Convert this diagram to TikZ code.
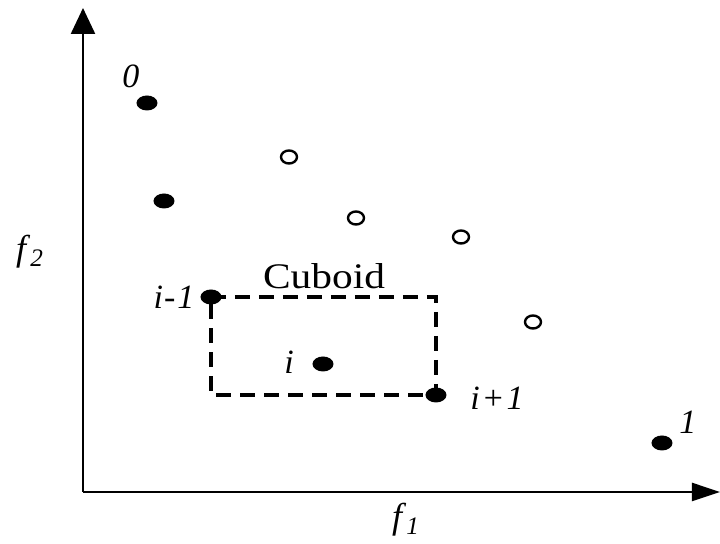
\documentclass[tikz,border=0pt]{standalone}
\usepackage{fontspec}
\setmainfont{Liberation Serif}
\usetikzlibrary{arrows.meta}

\tikzset{
  dot/.style={fill=black},
  hollow/.style={draw=black,line width=1.2pt,fill=white},
  lbl/.style={font=\fontsize{17}{19}\selectfont\itshape,inner sep=0pt},
}

\begin{document}
\begin{tikzpicture}[x=0.5pt,y=-0.5pt]
\useasboundingbox (0,0) rectangle (720,544);

% axes
\coordinate (o) at (83,492);
\coordinate (ytop) at (83,8);
\coordinate (xend) at (720,492);
\draw[line width=1.2pt,-{Triangle[length=13pt,width=12pt]}] (o) -- (ytop);
\draw[line width=1.2pt,-{Triangle[length=14pt,width=9pt]}] (o) -- (xend);
\node[font=\fontsize{18}{20}\selectfont] (f2) at (30,252) {\textit{f}\textsubscript{\textit{2}}};
\node[font=\fontsize{18}{20}\selectfont] (f1) at (406,520) {\textit{f}\textsubscript{\textit{1}}};

% solution points
\coordinate (p0) at (147,103);
\coordinate (pa) at (164,201);
\coordinate (pim1) at (211,297);
\coordinate (pi) at (323,364);
\coordinate (pip1) at (436,395);
\coordinate (p1) at (662,443);
\coordinate (qa) at (289,157);
\coordinate (qb) at (356,218);
\coordinate (qc) at (461,237);
\coordinate (qd) at (533,322);

% cuboid
\draw[line width=1.6pt,dash pattern=on 7.5pt off 4.5pt] (pim1) -| (pip1) -| cycle;
\node[font=\fontsize{18}{20}\selectfont,xscale=1.15,inner sep=0pt] (cub) at (324,276) {Cuboid};

\foreach \p in {p0,pa,pim1,pi,pip1,p1}
  \fill[dot] (\p) ellipse (10.5 and 7.5);
\foreach \q in {qa,qb,qc,qd}
  \draw[hollow] (\q) ellipse (8 and 6.5);

\node[lbl] (l0) at (131,76) {0};
\node[lbl] (lim1) at (174,297) {i\kern0.5pt-\kern1pt1};
\node[lbl] (li) at (289,362) {i};
\node[lbl] (lip1) at (497,398) {i\kern1pt+\kern1pt1};
\node[lbl] (l1) at (688,422) {1};
\end{tikzpicture}
\end{document}
